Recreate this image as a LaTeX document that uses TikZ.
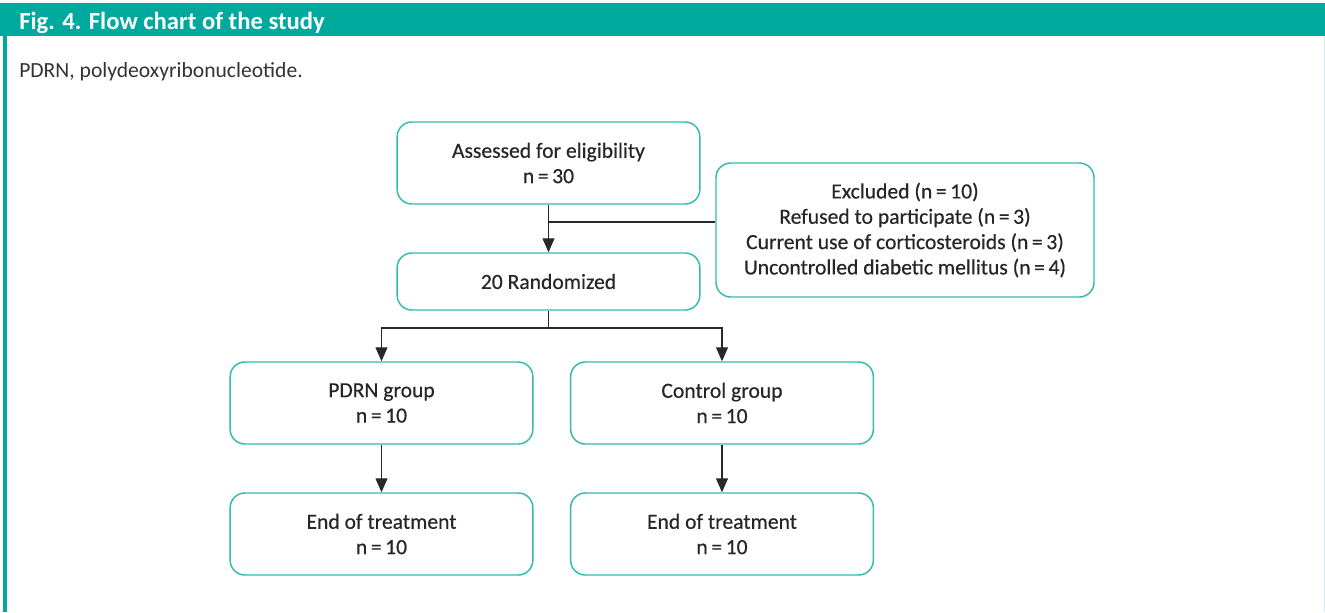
\documentclass[tikz,border=0pt]{standalone}
\usepackage{fontspec}
\setmainfont{Carlito}
\newfontfamily\boxfont{Carlito}[FakeBold=0.4]
\usepackage{xcolor}
\usetikzlibrary{arrows.meta}

\definecolor{headteal}{RGB}{0,169,157}
\definecolor{boxteal}{RGB}{52,186,174}
\definecolor{linegray}{RGB}{40,40,40}

\tikzset{
  flowbox/.style={draw=boxteal, line width=1.1pt, rounded corners=11pt,
    minimum width=227pt, minimum height=61.5pt, align=center,
    text=black!85, font=\boxfont\fontsize{16.2}{19}\selectfont},
  link/.style={draw=linegray, line width=0.85pt},
  linkarrow/.style={link, -{Triangle[length=10.5pt,width=9pt]}},
}

\begin{document}
\begin{tikzpicture}[x=0.75pt,y=-0.75pt]
		\useasboundingbox (0,0) rectangle (1325,612);
		\fill[white] (0,0) rectangle (1325,612);
		% header bar and frame
		\fill[headteal] (0,3) rectangle (1325,36);
		\fill[headteal] (3,36) rectangle (7,612);
		\draw[boxteal!25] (1324,36) -- (1324,612);
		\node[anchor=base west, inner sep=0pt, text=white, font=\bfseries\fontsize{18.5}{21}\selectfont] (title) at (19,29) {Fig. 4. Flow chart of the study};
		\node[anchor=base west, inner sep=0pt, text=black!80, font=\fontsize{16.2}{19}\selectfont] (abbr) at (19,77) {PDRN, polydeoxyribonucleotide.};
		% boxes
		\node[flowbox] (assess) at (548.5,163) {Assessed for eligibility\\n\,=\,30};
		\node[flowbox, minimum height=42.75pt] (rand) at (548.5,281.5) {20 Randomized};
		\node[flowbox, minimum width=283.5pt, minimum height=100.5pt] (excl) at (905,230) {Excluded (n\,=\,10)\\Refused to participate (n\,=\,3)\\Current use of corticosteroids (n\,=\,3)\\Uncontrolled diabetic mellitus (n\,=\,4)};
		\node[flowbox] (pdrn) at (381.5,403) {PDRN group\\n\,=\,10};
		\node[flowbox] (ctrl) at (722,403) {Control group\\n\,=\,10};
		\node[flowbox] (pdrnend) at (381.5,534) {End of treatment\\n\,=\,10};
		\node[flowbox] (ctrlend) at (722,534) {End of treatment\\n\,=\,10};
		% connectors
		\coordinate (branch) at (548.5,222);
		\coordinate (split) at (548.5,328);
		\draw[linkarrow] (assess) -- (rand);
		\draw[link] (branch) -- (branch -| excl.west);
		\draw[link] (rand) -- (split);
		\draw[linkarrow] (split) -| (pdrn);
		\draw[linkarrow] (split) -| (ctrl);
		\draw[linkarrow] (pdrn) -- (pdrnend);
		\draw[linkarrow] (ctrl) -- (ctrlend);
	\end{tikzpicture}
\end{document}
